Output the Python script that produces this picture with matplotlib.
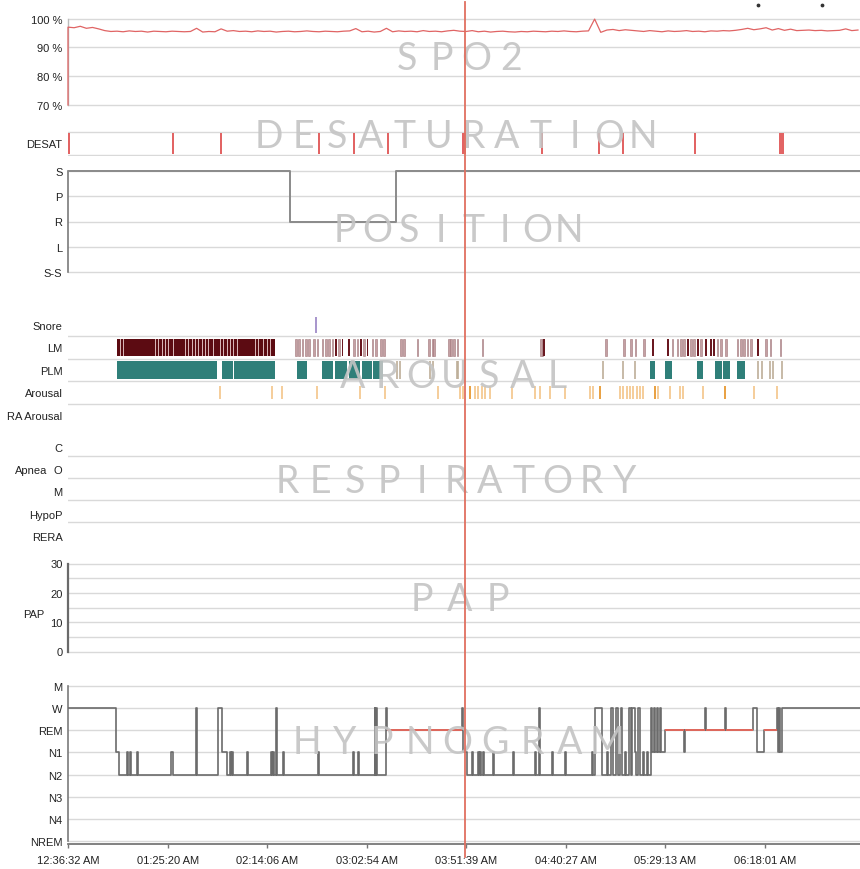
import numpy as np
import matplotlib
matplotlib.use("Agg")
import matplotlib.pyplot as plt
from matplotlib.lines import Line2D
from matplotlib import transforms

plt.rcParams['font.family'] = ['Liberation Sans', 'DejaVu Sans']

# ---------------- data (time in minutes from 12:36:32 AM) ----------------
time_ticks_min = [0, 48.8, 97.57, 146.37, 195.12, 243.92, 292.68, 341.48]
time_tick_labels = ["12:36:32 AM", "01:25:20 AM", "02:14:06 AM", "03:02:54 AM",
                    "03:51:39 AM", "04:40:27 AM", "05:29:13 AM", "06:18:01 AM"]
record_end_min = 388.0
cursor_min = 194.5
top_marks_min = [338.0, 369.4]

spo2_start_value = 70
spo2_step_min = 3
spo2_values = [97.0, 96.8, 97.3, 96.6, 96.9, 96.4, 95.8, 95.5, 95.6, 95.4,
               95.7, 95.5, 95.6, 95.3, 95.6, 95.5, 95.4, 95.6, 95.5, 95.4,
               95.5, 96.6, 95.3, 95.5, 95.4, 96.4, 95.6, 95.8, 95.5, 95.6,
               95.4, 95.7, 95.5, 95.6, 95.3, 95.5, 95.6, 95.4, 95.5, 95.7,
               95.5, 95.4, 95.6, 95.5, 95.4, 95.6, 95.7, 96.5, 95.4, 95.6,
               95.3, 95.5, 96.6, 95.4, 95.7, 95.5, 95.6, 95.4, 95.8, 95.5,
               95.6, 95.4, 95.7, 95.9, 95.6, 95.5, 95.8, 95.4, 95.6, 95.3,
               95.5, 95.6, 95.4, 95.3, 95.5, 95.4, 95.6, 95.5, 95.4, 95.6,
               95.5, 95.7, 95.5, 95.4, 95.6, 95.7, 99.8, 95.2, 96.0, 96.2,
               95.8, 96.1, 95.9, 95.7, 95.5, 95.8, 95.6, 95.4, 95.7, 95.5,
               95.6, 95.8, 95.5, 95.6, 95.4, 95.7, 95.6, 95.8, 95.7, 95.9,
               96.2, 96.6, 96.1, 96.4, 96.8, 96.0, 96.5, 95.9, 96.3, 95.8,
               95.9, 96.0, 95.8, 95.9, 95.7, 95.8, 95.9, 96.4, 95.8, 96.0]
spo2_ticks = [70, 80, 90, 100]
spo2_tick_labels = ["70 %", "80 %", "90 %", "100 %"]

desat_start = [0.0, 51.0, 74.5, 122.5, 139.6, 156.3, 192.8, 231.7, 259.6, 271.4, 306.7, 348.3]
desat_dur = [0.9, 0.9, 0.9, 0.9, 0.9, 0.9, 2.0, 0.9, 0.9, 0.9, 1.0, 2.5]

position_levels = ["S-S", "L", "R", "P", "S"]
position_times = [0, 108.8, 160.7, 388.0]
position_values = ["S", "R", "S", "S"]

event_rows = ["RA Arousal", "Arousal", "PLM", "LM", "Snore"]
snore_times = [121.5]
lm_burst_start = [23.9]
lm_burst_end = [101.4]
lm_burst_light = [25.5, 27.1, 42.6, 44.2, 45.9, 47.5, 49.1, 51.6, 57.3, 58.9,
                  60.6, 62.2, 63.8, 65.5, 67.1, 68.7, 71.2, 74.5, 76.1, 77.7,
                  79.4, 81.0, 82.6, 91.6, 93.2, 95.7, 97.3, 99.0]
lm_light_times = [111.2, 112.8, 114.5, 116.1, 117.7, 120.2, 121.8, 124.3, 125.9, 127.5,
                  129.1, 132.4, 139.8, 141.4, 144.6, 148.8, 150.4, 152.9, 154.5,
                  162.6, 164.3, 170.8, 176.5, 178.2, 179.0, 186.3, 187.1, 188.8, 190.4,
                  202.7, 231.2, 232.0, 263.1, 272.0, 275.3, 277.7, 281.8, 295.7, 298.2,
                  299.8, 301.4, 304.7, 306.3, 309.6, 317.8, 319.5, 321.9, 327.6, 329.2,
                  330.8, 332.5, 334.1, 341.4, 343.8, 348.7]
lm_dark_times = [130.8, 134.0, 137.3, 143.0, 146.3, 232.8, 286.1, 293.4, 303.1, 308.0,
                 312.1, 314.5, 316.1, 337.4]
plm_start = [23.9, 68.2, 75.3, 81.5, 112.3, 124.3, 130.8, 137.8, 143.9, 149.6,
             285.1, 292.4, 308.0, 316.9, 321.0, 327.6]
plm_dur = [44.0, 4.9, 5.7, 19.9, 4.6, 5.7, 5.7, 5.2, 4.9, 4.9,
           2.5, 3.3, 3.2, 3.3, 3.3, 4.1]
plm_light_times = [161.0, 162.6, 177.3, 179.0, 190.4, 191.2, 262.2, 272.0, 277.7,
                   338.2, 339.9, 343.9, 345.5, 349.6]
arousal_times = [74.5, 99.8, 104.7, 121.8, 143.1, 155.3, 181.4, 192.0, 193.6, 199.3,
                 200.9, 202.6, 204.3, 206.7, 217.4, 228.8, 231.2, 236.1, 243.5, 255.7,
                 257.4, 270.4, 272.0, 273.7, 275.3, 276.9, 278.6, 280.2, 281.8, 289.2,
                 294.9, 299.8, 301.4, 311.2, 335.9, 347.3]
arousal_strong_times = [196.9, 260.6, 287.6, 321.8]

resp_rows = ["RERA", "HypoP", "M", "O", "C"]

pap_ticks = [0, 10, 20, 30]

hyp_levels = ["NREM", "N4", "N3", "N2", "N1", "REM", "W", "M"]
hyp_times = [0, 23.5, 25.0, 29.1, 29.6, 30.4, 30.9, 33.6, 34.1, 50.7,
             51.2, 62.5, 63.2, 73.7, 75.4, 77.9, 79.4, 79.9, 80.3, 80.8,
             87.7, 88.2, 99.4, 99.9, 100.4, 100.9, 101.7, 102.2, 105.3, 105.8,
             122.7, 123.2, 139.6, 140.1, 142.3, 142.8, 150.2, 150.6, 151.1, 151.5,
             155.8, 156.5, 192.8, 193.5, 195.5, 197.7, 198.2, 200.9, 201.4, 201.8,
             202.3, 203.3, 203.8, 208.2, 208.7, 218.0, 218.5, 228.8, 229.3, 230.5,
             231.0, 236.9, 237.4, 243.5, 244.0, 256.5, 257.0, 258.2, 261.6, 264.1,
             264.6, 266.0, 266.8, 268.5, 269.5, 270.4, 270.9, 271.4, 272.9, 273.4,
             274.8, 275.8, 276.3, 277.8, 278.3, 279.2, 280.2, 281.7, 282.2, 283.7,
             284.2, 285.6, 286.1, 287.1, 287.6, 288.6, 289.1, 290.1, 290.6, 292.7,
             302.0, 302.5, 312.1, 312.6, 321.9, 322.4, 335.8, 337.5, 341.0, 347.3,
             347.8, 348.3, 349.0, 349.8, 388.0]
hyp_stages = ["W", "N1", "N2", "N1", "N2", "N1", "N2", "N1", "N2", "N1",
              "N2", "W", "N2", "W", "N1", "N2", "N1", "N2", "N1", "N2",
              "N1", "N2", "N1", "N2", "N1", "N2", "W", "N2", "N1", "N2",
              "N1", "N2", "N1", "N2", "N1", "N2", "W", "N2", "W", "N2",
              "W", "REM", "W", "N1", "N2", "N1", "N2", "N1", "N2", "N1",
              "N2", "N1", "N2", "N1", "N2", "N1", "N2", "N1", "N2", "W",
              "N2", "N1", "N2", "N1", "N2", "N1", "N2", "W", "N2", "N1",
              "N2", "W", "N2", "W", "N2", "N1", "W", "N2", "N1", "N2",
              "W", "N2", "W", "N1", "N2", "W", "N2", "N1", "N2", "N1",
              "N2", "W", "N1", "W", "N1", "W", "N1", "W", "N1", "REM",
              "N1", "REM", "W", "REM", "W", "REM", "W", "N1", "REM", "W",
              "N1", "W", "N1", "W", "W"]

watermarks = ["SPO2", "DESATURATION", "POSITION", "AROUSAL", "RESPIRATORY", "PAP", "HYPNOGRAM"]

# ---------------- drawing ----------------
W, H = 860, 870
X0, X1 = 68, 860
GRID = "#d9d9d9"
fig = plt.figure(figsize=(W / 100, H / 100), dpi=100)
fig.patch.set_facecolor("white")


def panel(v_top, px_top, v_bot, px_bot, pad_top=3, pad_bot=3):
    s = (px_bot - px_top) / (v_top - v_bot)
    top = px_top - pad_top
    bot = px_bot + pad_bot
    ax = fig.add_axes([X0 / W, 1 - bot / H, (X1 - X0) / W, (bot - top) / H])
    ax.set_ylim(v_bot - pad_bot / s, v_top + pad_top / s)
    ax.set_xlim(0, record_end_min)
    for sp in ax.spines.values():
        sp.set_visible(False)
    ax.tick_params(axis='x', bottom=False, labelbottom=False)
    ax.tick_params(axis='y', length=0, pad=4, labelsize=8, labelcolor="#222222")
    ax.patch.set_alpha(0)
    return ax


def hgrid(ax, ys):
    for y in ys:
        ax.axhline(y, color=GRID, lw=1.0, zorder=0)


def left_spine(ax, lo, hi, color="#7a7a7a", lw=1.2):
    sp = ax.spines['left']
    sp.set_visible(True)
    sp.set_bounds(lo, hi)
    sp.set_color(color)
    sp.set_linewidth(lw)


# SPO2
ax1 = panel(100, 19.5, 70, 106)
hgrid(ax1, spo2_ticks)
ax1.set_yticks(spo2_ticks, spo2_tick_labels)
left_spine(ax1, 70, 100, "#bbbbbb", 1.0)
t_spo2 = np.arange(len(spo2_values)) * spo2_step_min
ax1.plot(np.r_[0, t_spo2], np.r_[spo2_start_value, spo2_values],
         color="#e06464", lw=0.9, zorder=3, clip_on=False)
ax1.scatter(top_marks_min, [104.8] * len(top_marks_min), s=3, color="#333333", clip_on=False)

# DESAT
ax2 = panel(1, 133, 0, 156, 1, 1)
hgrid(ax2, [0, 1])
ax2.set_yticks([0.5], ["DESAT"])
ax2.broken_barh(list(zip(desat_start, desat_dur)), (0.06, 0.88), facecolors="#e26464", zorder=3)

# Position
ax3 = panel(4, 172, 0, 273)
hgrid(ax3, range(5))
ax3.set_yticks(range(5), position_levels)
left_spine(ax3, 0, 4)
pos_num = [position_levels.index(p) for p in position_values]
ax3.step(position_times, pos_num, where='post', color="#8a8a8a", lw=1.4, zorder=3)

# Events (snore, LM, PLM, arousal)
ax4 = panel(4, 326, 0, 416, 12, 12)
hgrid(ax4, [0.5, 1.5, 2.5, 3.5])
ax4.set_yticks(range(5), event_rows)
ax4.vlines(snore_times, 4 - 0.36, 4 + 0.36, color="#a08cc8", lw=1.3)
ax4.broken_barh([(s, e - s) for s, e in zip(lm_burst_start, lm_burst_end)],
                (3 - 0.38, 0.76), facecolors="#5c0b12")
ax4.broken_barh([(t, 0.55) for t in lm_burst_light], (3 - 0.38, 0.76), facecolors="#d7b4b6")
ax4.broken_barh([(t, 0.8) for t in lm_light_times], (3 - 0.38, 0.76),
                facecolors="#c4a0a3", edgecolors="#a07479", linewidth=0.4)
ax4.broken_barh([(t, 0.9) for t in lm_dark_times], (3 - 0.38, 0.76), facecolors="#6a1820")
ax4.broken_barh(list(zip(plm_start, plm_dur)), (2 - 0.4, 0.8), facecolors="#2f7f79")
ax4.vlines(plm_light_times, 2 - 0.38, 2 + 0.38, color="#bdae98", lw=1.2)
ax4.vlines(arousal_times, 1 - 0.3, 1 + 0.3, color="#f3c07e", lw=1.1)
ax4.vlines(arousal_strong_times, 1 - 0.3, 1 + 0.3, color="#e9a040", lw=1.4)

# Respiratory
ax5 = panel(4, 448.3, 0, 536.7, 6, 6)
hgrid(ax5, [0.6, 1.6, 2.6, 3.6])
ax5.set_yticks(range(5), resp_rows)
fig.text(47 / W, 1 - 471 / H, "Apnea", ha='right', va='center', fontsize=8, color="#222222")

# PAP
ax6 = panel(30, 564.5, 0, 652.5)
hgrid(ax6, range(0, 31, 5))
ax6.set_yticks(pap_ticks, [str(v) for v in pap_ticks])
left_spine(ax6, 0, 30, "#6a6a6a", 1.6)
fig.text(44 / W, 1 - 615 / H, "PAP", ha='right', va='center', fontsize=8, color="#222222")

# Hypnogram
ax7 = panel(7, 687, 0, 842, 3, 3)
hgrid(ax7, range(8))
ax7.set_yticks(range(8), hyp_levels)
left_spine(ax7, 0, 7)
sp = ax7.spines['bottom']
sp.set_visible(True)
sp.set_color("#777777")
sp.set_linewidth(1.3)
ax7.set_xticks(time_ticks_min, time_tick_labels)
ax7.tick_params(axis='x', bottom=True, labelbottom=True, length=3, width=1,
                color="#777777", labelsize=8, pad=5, labelcolor="#222222")
hyp_num = [hyp_levels.index(s) for s in hyp_stages]
ax7.step(hyp_times, hyp_num, where='post', color="#6b6b6b", lw=1.2, zorder=3)
rem = hyp_levels.index("REM")
for i in range(len(hyp_stages) - 1):
    if hyp_stages[i] == "REM":
        ax7.hlines(rem, hyp_times[i], hyp_times[i + 1], color="#e8665a", lw=1.3, zorder=4)

# Watermark titles (letter-spaced)
wm_layout = [(459, 56, 34.7), (456, 135, 34.0), (457, 229, 32.0), (455, 375, 34.0),
             (456, 480, 33.8), (460, 598, 38.0), (457, 740, 37.5)]
for word, (cx, cy, pitch) in zip(watermarks, wm_layout):
    n = len(word)
    for i, ch in enumerate(word):
        x = cx + (i - (n - 1) / 2) * pitch
        fig.text(x / W, 1 - (cy + 13.5) / H, ch, ha='center', va='baseline',
                 fontsize=27, family='Lato', fontweight='normal',
                 color="#c4c4c4", alpha=0.9, zorder=10)

# Red cursor line spanning all panels
trans = transforms.blended_transform_factory(ax7.transData, fig.transFigure)
fig.add_artist(Line2D([cursor_min, cursor_min], [1 - 3 / H, 1 - 858 / H],
                      transform=trans, color="#e07060", lw=1.3, zorder=11))

fig.savefig("out.png", dpi=100, facecolor="white")
